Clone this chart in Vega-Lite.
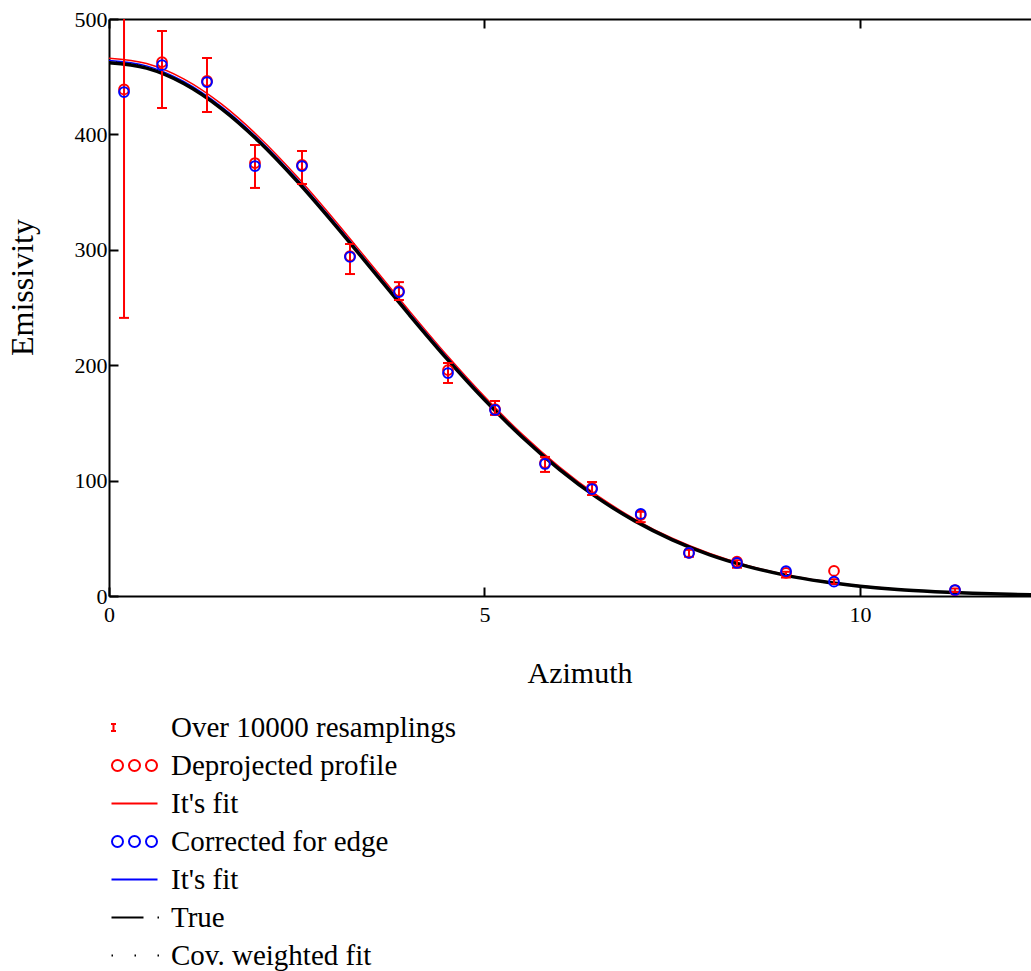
{
  "$schema": "https://vega.github.io/schema/vega-lite/v6.json",
  "width": 922,
  "height": 577,
  "autosize": {"type": "none"},
  "padding": {"left": 109, "top": 19, "right": 0, "bottom": 375},
  "background": "white",
  "config": {
    "view": {"stroke": null},
    "axis": {
      "labelFont": "Liberation Serif", "titleFont": "Liberation Serif",
      "labelColor": "black", "titleColor": "black", "titleFontWeight": "normal",
      "labelFontSize": 22, "titleFontSize": 30,
      "domainColor": "black", "domainWidth": 2, "tickColor": "black", "tickWidth": 2,
      "grid": false
    }
  },
  "datasets": {
    "pts": [
      {"series": "b", "x": 0.2, "y": 439}, {"series": "b", "x": 0.706, "y": 462.7}, {"series": "b", "x": 1.305, "y": 446.3},
      {"series": "b", "x": 1.944, "y": 375.2}, {"series": "b", "x": 2.57, "y": 373.5}, {"series": "b", "x": 3.209, "y": 294.6},
      {"series": "b", "x": 3.861, "y": 264.3}, {"series": "b", "x": 4.514, "y": 195.8}, {"series": "b", "x": 5.14, "y": 162},
      {"series": "b", "x": 5.806, "y": 115.3}, {"series": "b", "x": 6.432, "y": 93.6}, {"series": "b", "x": 7.08, "y": 70.2},
      {"series": "b", "x": 7.723, "y": 37.3}, {"series": "b", "x": 8.362, "y": 29.7}, {"series": "b", "x": 9.015, "y": 20},
      {"series": "b", "x": 9.654, "y": 21.7}, {"series": "b", "x": 11.265, "y": 5},
      {"series": "d", "x": 0.2, "y": 436.7}, {"series": "d", "x": 0.706, "y": 460}, {"series": "d", "x": 1.305, "y": 445.4},
      {"series": "d", "x": 1.944, "y": 372.6}, {"series": "d", "x": 2.57, "y": 372.6}, {"series": "d", "x": 3.209, "y": 293.8},
      {"series": "d", "x": 3.861, "y": 263.4}, {"series": "d", "x": 4.514, "y": 193.2}, {"series": "d", "x": 5.14, "y": 161.2},
      {"series": "d", "x": 5.806, "y": 114.4}, {"series": "d", "x": 6.432, "y": 92.7}, {"series": "d", "x": 7.08, "y": 71.1},
      {"series": "d", "x": 7.723, "y": 37.3}, {"series": "d", "x": 8.362, "y": 28.6}, {"series": "d", "x": 9.015, "y": 21.5},
      {"series": "d", "x": 9.654, "y": 12.4}, {"series": "d", "x": 11.265, "y": 5.2}
    ],
    "err": [
      {"x": 0.2, "lo": 241, "hi": 639}, {"x": 0.706, "lo": 422.9, "hi": 489.6}, {"x": 1.305, "lo": 419.4, "hi": 466.2},
      {"x": 1.944, "lo": 353.6, "hi": 390.8}, {"x": 2.57, "lo": 357, "hi": 385.6}, {"x": 3.209, "lo": 279, "hi": 305},
      {"x": 3.861, "lo": 256.5, "hi": 272}, {"x": 4.514, "lo": 184.6, "hi": 201.9}, {"x": 5.14, "lo": 156.9, "hi": 169},
      {"x": 5.806, "lo": 107.5, "hi": 120.5}, {"x": 6.432, "lo": 87.5, "hi": 98.8}, {"x": 7.08, "lo": 64, "hi": 73},
      {"x": 7.723, "lo": 34, "hi": 40}, {"x": 8.362, "lo": 24.5, "hi": 31}, {"x": 9.015, "lo": 16, "hi": 21},
      {"x": 9.654, "lo": 10.5, "hi": 14.5}, {"x": 11.265, "lo": 3.5, "hi": 6.5}
    ],
    "curves": [
      {"series": "c", "x": 0, "y": 466}, {"series": "c", "x": 0.5, "y": 461.4}, {"series": "c", "x": 1, "y": 447.9}, {"series": "c", "x": 1.5, "y": 426.2},
      {"series": "c", "x": 2, "y": 397.6}, {"series": "c", "x": 2.5, "y": 363.7}, {"series": "c", "x": 3, "y": 326.1}, {"series": "c", "x": 3.5, "y": 286.6},
      {"series": "c", "x": 4, "y": 247.0}, {"series": "c", "x": 4.5, "y": 208.6}, {"series": "c", "x": 5, "y": 172.8}, {"series": "c", "x": 5.5, "y": 140.3},
      {"series": "c", "x": 6, "y": 111.7}, {"series": "c", "x": 6.5, "y": 87.1}, {"series": "c", "x": 7, "y": 66.7}, {"series": "c", "x": 7.5, "y": 50.0},
      {"series": "c", "x": 8, "y": 36.8}, {"series": "c", "x": 8.5, "y": 26.5}, {"series": "c", "x": 9, "y": 18.7}, {"series": "c", "x": 9.5, "y": 13.0},
      {"series": "c", "x": 10, "y": 8.8}, {"series": "c", "x": 10.5, "y": 5.9}, {"series": "c", "x": 11, "y": 3.8}, {"series": "c", "x": 11.5, "y": 2.5},
      {"series": "c", "x": 12, "y": 1.5}, {"series": "c", "x": 12.3, "y": 1.2},
      {"series": "e", "x": 0, "y": 464}, {"series": "e", "x": 0.5, "y": 459.4}, {"series": "e", "x": 1, "y": 445.7}, {"series": "e", "x": 1.5, "y": 423.9},
      {"series": "e", "x": 2, "y": 395.4}, {"series": "e", "x": 2.5, "y": 361.5}, {"series": "e", "x": 3, "y": 323.8}, {"series": "e", "x": 3.5, "y": 284.5},
      {"series": "e", "x": 4, "y": 245.0}, {"series": "e", "x": 4.5, "y": 206.8}, {"series": "e", "x": 5, "y": 171.1}, {"series": "e", "x": 5.5, "y": 138.8},
      {"series": "e", "x": 6, "y": 110.4}, {"series": "e", "x": 6.5, "y": 86.0}, {"series": "e", "x": 7, "y": 65.8}, {"series": "e", "x": 7.5, "y": 49.2},
      {"series": "e", "x": 8, "y": 36.1}, {"series": "e", "x": 8.5, "y": 26.0}, {"series": "e", "x": 9, "y": 18.3}, {"series": "e", "x": 9.5, "y": 12.7},
      {"series": "e", "x": 10, "y": 8.6}, {"series": "e", "x": 10.5, "y": 5.7}, {"series": "e", "x": 11, "y": 3.7}, {"series": "e", "x": 11.5, "y": 2.4},
      {"series": "e", "x": 12, "y": 1.5}, {"series": "e", "x": 12.3, "y": 1.1},
      {"series": "f", "x": 0, "y": 462}, {"series": "f", "x": 0.5, "y": 457.4}, {"series": "f", "x": 1, "y": 443.9}, {"series": "f", "x": 1.5, "y": 422.2},
      {"series": "f", "x": 2, "y": 393.7}, {"series": "f", "x": 2.5, "y": 359.8}, {"series": "f", "x": 3, "y": 322.3}, {"series": "f", "x": 3.5, "y": 283.0},
      {"series": "f", "x": 4, "y": 243.6}, {"series": "f", "x": 4.5, "y": 205.5}, {"series": "f", "x": 5, "y": 170.0}, {"series": "f", "x": 5.5, "y": 137.8},
      {"series": "f", "x": 6, "y": 109.5}, {"series": "f", "x": 6.5, "y": 85.2}, {"series": "f", "x": 7, "y": 65.1}, {"series": "f", "x": 7.5, "y": 48.7},
      {"series": "f", "x": 8, "y": 35.7}, {"series": "f", "x": 8.5, "y": 25.7}, {"series": "f", "x": 9, "y": 18.1}, {"series": "f", "x": 9.5, "y": 12.5},
      {"series": "f", "x": 10, "y": 8.5}, {"series": "f", "x": 10.5, "y": 5.6}, {"series": "f", "x": 11, "y": 3.7}, {"series": "f", "x": 11.5, "y": 2.3},
      {"series": "f", "x": 12, "y": 1.5}, {"series": "f", "x": 12.3, "y": 1.1},
      {"series": "g", "x": 0, "y": 463}, {"series": "g", "x": 0.5, "y": 458.4}, {"series": "g", "x": 1, "y": 444.8}, {"series": "g", "x": 1.5, "y": 423.1},
      {"series": "g", "x": 2, "y": 394.5}, {"series": "g", "x": 2.5, "y": 360.6}, {"series": "g", "x": 3, "y": 323.0}, {"series": "g", "x": 3.5, "y": 283.6},
      {"series": "g", "x": 4, "y": 244.1}, {"series": "g", "x": 4.5, "y": 205.9}, {"series": "g", "x": 5, "y": 170.3}, {"series": "g", "x": 5.5, "y": 138.1},
      {"series": "g", "x": 6, "y": 109.7}, {"series": "g", "x": 6.5, "y": 85.4}, {"series": "g", "x": 7, "y": 65.2}, {"series": "g", "x": 7.5, "y": 48.8},
      {"series": "g", "x": 8, "y": 35.8}, {"series": "g", "x": 8.5, "y": 25.7}, {"series": "g", "x": 9, "y": 18.1}, {"series": "g", "x": 9.5, "y": 12.5},
      {"series": "g", "x": 10, "y": 8.5}, {"series": "g", "x": 10.5, "y": 5.6}, {"series": "g", "x": 11, "y": 3.7}, {"series": "g", "x": 11.5, "y": 2.3},
      {"series": "g", "x": 12, "y": 1.5}, {"series": "g", "x": 12.3, "y": 1.0}
    ]
  },
  "layer": [
    {
      "data": {"name": "curves"},
      "transform": [{"filter": "datum.series === 'c' || datum.series === 'e'"}],
      "mark": {"type": "line", "strokeWidth": 1.5, "interpolate": "monotone", "clip": true},
      "encoding": {
        "x": {"field": "x", "type": "quantitative", "scale": {"domain": [0, 12.277], "nice": false, "zero": false},
          "axis": {"orient": "bottom", "values": [0, 5, 10], "tickSize": -9, "labelPadding": 17, "title": "Azimuth", "titleX": 470.5, "titleY": 77, "titleBaseline": "middle", "labelFlush": false}},
        "y": {"field": "y", "type": "quantitative", "scale": {"domain": [0, 500], "nice": false},
          "axis": {"values": [0, 100, 200, 300, 400, 500], "tickSize": -9, "labelPadding": 11, "title": "Emissivity", "titleFontSize": 32, "titleX": -87, "titleY": 268, "titleBaseline": "middle", "titleAngle": -90, "labelFlush": false}},
        "color": {"field": "series", "type": "nominal",
          "scale": {"domain": ["a", "b", "c", "d", "e", "f", "g"], "range": ["#ff0000", "#ff0000", "#ff0000", "#0000ff", "#0000ff", "#000000", "#000000"]}}
      }
    },
    {
      "data": {"name": "curves"},
      "transform": [{"filter": "datum.series === 'f'"}],
      "mark": {"type": "line", "strokeWidth": 3.5, "interpolate": "monotone", "clip": true},
      "encoding": {
        "x": {"field": "x", "type": "quantitative", "axis": null},
        "y": {"field": "y", "type": "quantitative"},
        "color": {"field": "series", "type": "nominal"}
      }
    },
    {
      "data": {"name": "curves"},
      "transform": [{"filter": "datum.series === 'g'"}],
      "mark": {"type": "line", "strokeWidth": 1.5, "strokeDash": [1, 6], "interpolate": "monotone", "clip": true},
      "encoding": {
        "x": {"field": "x", "type": "quantitative", "axis": null},
        "y": {"field": "y", "type": "quantitative"},
        "color": {"field": "series", "type": "nominal"}
      }
    },
    {
      "data": {"name": "err"},
      "mark": {"type": "rule", "color": "#ff0000", "strokeWidth": 2, "clip": true},
      "encoding": {
        "x": {"field": "x", "type": "quantitative", "axis": null},
        "y": {"field": "lo", "type": "quantitative"},
        "y2": {"field": "hi"}
      }
    },
    {
      "data": {"name": "err"},
      "transform": [{"fold": ["lo", "hi"], "as": ["end", "v"]}],
      "mark": {"type": "tick", "orient": "horizontal", "color": "#ff0000", "size": 10, "thickness": 2, "opacity": 1, "clip": true},
      "encoding": {
        "x": {"field": "x", "type": "quantitative", "axis": null},
        "y": {"field": "v", "type": "quantitative"}
      }
    },
    {
      "data": {"name": "pts"},
      "mark": {"type": "point", "shape": "circle", "filled": false, "size": 95, "strokeWidth": 2, "opacity": 1, "clip": true},
      "encoding": {
        "x": {"field": "x", "type": "quantitative", "axis": null},
        "y": {"field": "y", "type": "quantitative"},
        "color": {"field": "series", "type": "nominal"}
      }
    },
    {
      "data": {"name": "pts"},
      "mark": {"type": "point", "filled": false, "opacity": 0},
      "encoding": {
        "x": {"field": "x", "type": "quantitative",
          "axis": {"orient": "top", "values": [0, 5, 10], "labels": false, "tickSize": -9, "title": null}},
        "y": {"field": "y", "type": "quantitative"},
        "color": {"field": "series", "type": "nominal",
          "legend": {
            "orient": "none", "legendX": 11, "legendY": 694, "padding": 0, "title": null,
            "symbolSize": 400, "symbolStrokeWidth": 2, "labelOffset": 22, "rowPadding": 8,
            "labelFont": "Liberation Serif", "labelFontSize": 29, "labelColor": "black", "labelLimit": 600,
            "labelExpr": "{'a': 'Over 10000 resamplings', 'b': 'Deprojected profile', 'c': \"It's fit\", 'd': 'Corrected for edge', 'e': \"It's fit\", 'f': 'True', 'g': 'Cov. weighted fit'}[datum.value]",
            "encode": {
              "symbols": {"update": {"fill": {"value": "transparent"}, "stroke": {"scale": "color", "field": "value"}, "shape": {"scale": "shape", "field": "value"}, "opacity": {"value": 1}, "strokeWidth": {"value": 2}}},
              "labels": {"update": {"dx": {"signal": "(datum.index === 0 || datum.value === 'a') ? -33 : 0"}}}
            }
          }},
        "shape": {"field": "series", "type": "nominal",
          "scale": {"domain": ["a", "b", "c", "d", "e", "f", "g"], "range": [
            "M-2.35,-0.35H-1.85M-2.1,-0.35V0.35M-2.35,0.35H-1.85",
            "M-2.25,0A0.55,0.55 0 1 1 -1.15,0A0.55,0.55 0 1 1 -2.25,0M-0.55,0A0.55,0.55 0 1 1 0.55,0A0.55,0.55 0 1 1 -0.55,0M1.15,0A0.55,0.55 0 1 1 2.25,0A0.55,0.55 0 1 1 1.15,0",
            "M-2.3,0H2.3",
            "M-2.25,0A0.55,0.55 0 1 1 -1.15,0A0.55,0.55 0 1 1 -2.25,0M-0.55,0A0.55,0.55 0 1 1 0.55,0A0.55,0.55 0 1 1 -0.55,0M1.15,0A0.55,0.55 0 1 1 2.25,0A0.55,0.55 0 1 1 1.15,0",
            "M-2.3,0H2.3",
            "M-2.3,0H0.9M2.3,0H2.45",
            "M-2.3,0H-2.15M0,0H0.15M2.3,0H2.45"
          ]},
          "legend": {"orient": "none", "legendX": 11, "legendY": 694, "padding": 0, "title": null,
            "symbolSize": 400, "symbolStrokeWidth": 2, "labelOffset": 22, "rowPadding": 8,
            "labelFont": "Liberation Serif", "labelFontSize": 29, "labelColor": "black", "labelLimit": 600,
            "labelExpr": "{'a': 'Over 10000 resamplings', 'b': 'Deprojected profile', 'c': \"It's fit\", 'd': 'Corrected for edge', 'e': \"It's fit\", 'f': 'True', 'g': 'Cov. weighted fit'}[datum.value]",
            "encode": {
              "symbols": {"update": {"fill": {"value": "transparent"}, "stroke": {"scale": "color", "field": "value"}, "shape": {"scale": "shape", "field": "value"}, "opacity": {"value": 1}, "strokeWidth": {"value": 2}}},
              "labels": {"update": {"dx": {"signal": "(datum.index === 0 || datum.value === 'a') ? -33 : 0"}}}
            }
          }}
      }
    }
  ],
  "resolve": {"axis": {"x": "independent"}}
}
